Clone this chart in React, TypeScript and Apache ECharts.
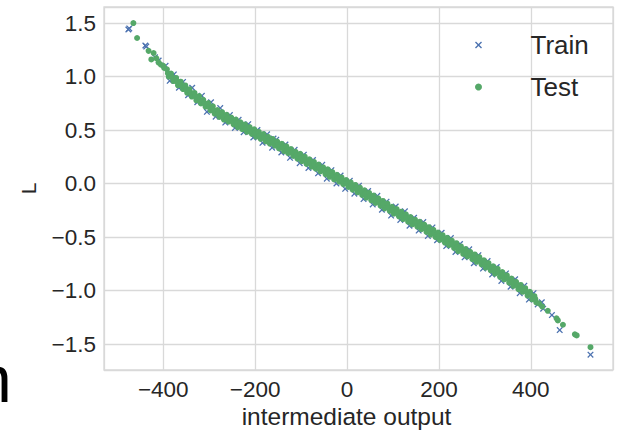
import React, { useEffect, useRef } from "react";
import * as echarts from "echarts";

const seriesNames = ["Train", "Test"];
const xAxisTitle = "intermediate output";
const yAxisTitle = "L";

const trainPoints: number[][] = [
  [-476, 1.44], [-474, 1.45], [-439, 1.29], [-437, 1.28], [-418, 1.18], [-410, 1.15],
  [-395, 1.1], [-386, 0.96], [-377, 1.02], [-366, 0.895], [-357, 0.95], [-346, 0.825],
  [-337, 0.895], [-326, 0.76], [-316, 0.82], [-305, 0.67], [-296, 0.76], [-286, 0.625],
  [-276, 0.705], [-265, 0.57], [-255, 0.64], [-244, 0.52], [-236, 0.595], [-225, 0.48],
  [-215, 0.555], [-204, 0.43], [-195, 0.5], [-184, 0.38], [-174, 0.46], [-163, 0.335],
  [-160, 0.42], [-154, 0.41], [-143, 0.29], [-134, 0.365], [-124, 0.24], [-114, 0.315],
  [-103, 0.19], [-94, 0.27], [-84, 0.145], [-74, 0.22], [-63, 0.095], [-54, 0.175],
  [-44, 0.045], [-34, 0.125], [-23, 0.0], [-14, 0.075], [-4, -0.05], [6, 0.025],
  [16, -0.095], [26, -0.02], [36, -0.145], [46, -0.07], [56, -0.195], [66, -0.115],
  [76, -0.245], [86, -0.17], [96, -0.3], [106, -0.215], [116, -0.34], [126, -0.26],
  [136, -0.395], [146, -0.32], [156, -0.44], [166, -0.36], [176, -0.49], [186, -0.41],
  [196, -0.53], [206, -0.46], [216, -0.585], [226, -0.51], [236, -0.64], [246, -0.565],
  [256, -0.69], [266, -0.615], [276, -0.745], [286, -0.67], [296, -0.795], [306, -0.725],
  [316, -0.85], [326, -0.78], [336, -0.91], [346, -0.84], [356, -0.965], [366, -0.895],
  [376, -1.025], [386, -0.955], [396, -1.085], [406, -1.025], [415, -1.13], [424, -1.11],
  [427, -1.17], [446, -1.23], [463, -1.37], [530, -1.6],
];

const testPoints: number[][] = [
  [-465, 1.5], [-457, 1.36], [-432, 1.24], [-421, 1.22], [-426, 1.16], [-415, 1.17],
  [-410, 1.13], [-405, 1.11], [-400, 1.1], [-398, 1.08],
  [-392, 1.067], [-388, 0.998], [-390, 1.03], [-383, 1.027], [-378, 0.958], [-380, 0.99],
  [-372, 0.987], [-368, 0.918], [-370, 0.952], [-362, 0.952], [-357, 0.883], [-360, 0.915],
  [-352, 0.917], [-348, 0.848], [-350, 0.88], [-343, 0.882], [-338, 0.813], [-340, 0.847],
  [-332, 0.847], [-328, 0.778], [-330, 0.813], [-322, 0.817], [-318, 0.748], [-320, 0.78],
  [-313, 0.782], [-308, 0.718], [-310, 0.748], [-302, 0.752], [-297, 0.683], [-300, 0.715],
  [-292, 0.722], [-288, 0.653], [-290, 0.683], [-282, 0.687], [-278, 0.623], [-280, 0.653],
  [-272, 0.667], [-268, 0.598], [-270, 0.63], [-262, 0.642], [-258, 0.578], [-260, 0.607],
  [-252, 0.617], [-247, 0.553], [-250, 0.583], [-242, 0.597], [-238, 0.528], [-240, 0.56],
  [-232, 0.572], [-228, 0.508], [-230, 0.538], [-222, 0.552], [-218, 0.483], [-220, 0.515],
  [-212, 0.527], [-207, 0.463], [-210, 0.493], [-202, 0.507], [-198, 0.438], [-200, 0.47],
  [-192, 0.482], [-188, 0.418], [-190, 0.448], [-182, 0.462], [-177, 0.393], [-180, 0.426],
  [-172, 0.437], [-168, 0.373], [-170, 0.404], [-162, 0.417], [-157, 0.353], [-160, 0.382],
  [-152, 0.392], [-148, 0.328], [-150, 0.36], [-142, 0.372], [-137, 0.303], [-140, 0.336],
  [-132, 0.347], [-128, 0.283], [-130, 0.312], [-122, 0.322], [-117, 0.258], [-120, 0.288],
  [-112, 0.297], [-108, 0.233], [-110, 0.264], [-102, 0.277], [-98, 0.208], [-100, 0.24],
  [-92, 0.252], [-88, 0.183], [-90, 0.216], [-82, 0.227], [-77, 0.158], [-80, 0.192],
  [-72, 0.202], [-68, 0.138], [-70, 0.168], [-62, 0.177], [-58, 0.113], [-60, 0.144],
  [-52, 0.152], [-47, 0.088], [-50, 0.12], [-42, 0.132], [-38, 0.063], [-40, 0.096],
  [-32, 0.107], [-28, 0.038], [-30, 0.072], [-22, 0.082], [-17, 0.018], [-20, 0.048],
  [-12, 0.057], [-8, -0.007], [-10, 0.024], [-2, 0.032], [3, -0.032], [0, 0.0],
  [8, 0.012], [12, -0.057], [10, -0.024], [18, -0.013], [23, -0.082], [20, -0.048],
  [28, -0.038], [33, -0.107], [30, -0.072], [38, -0.063], [42, -0.132], [40, -0.096],
  [48, -0.088], [53, -0.157], [50, -0.12], [58, -0.113], [62, -0.182], [60, -0.146],
  [68, -0.138], [73, -0.207], [70, -0.172], [78, -0.163], [82, -0.232], [80, -0.198],
  [88, -0.188], [93, -0.257], [90, -0.224], [98, -0.218], [102, -0.282], [100, -0.25],
  [108, -0.238], [113, -0.307], [110, -0.274], [118, -0.263], [122, -0.332], [120, -0.298],
  [128, -0.288], [133, -0.357], [130, -0.322], [138, -0.313], [142, -0.382], [140, -0.346],
  [148, -0.338], [153, -0.402], [150, -0.37], [158, -0.358], [162, -0.427], [160, -0.394],
  [168, -0.383], [173, -0.452], [170, -0.418], [178, -0.408], [182, -0.477], [180, -0.442],
  [188, -0.433], [193, -0.502], [190, -0.466], [198, -0.458], [202, -0.527], [200, -0.49],
  [208, -0.483], [213, -0.552], [210, -0.516], [218, -0.508], [222, -0.577], [220, -0.542],
  [228, -0.533], [233, -0.602], [230, -0.568], [238, -0.558], [242, -0.632], [240, -0.594],
  [248, -0.588], [253, -0.657], [250, -0.62], [258, -0.613], [262, -0.682], [260, -0.646],
  [268, -0.638], [273, -0.707], [270, -0.672], [278, -0.663], [282, -0.732], [280, -0.698],
  [288, -0.688], [293, -0.757], [290, -0.724], [298, -0.718], [302, -0.787], [300, -0.75],
  [308, -0.743], [313, -0.812], [310, -0.778], [318, -0.773], [322, -0.842], [320, -0.806],
  [328, -0.798], [333, -0.872], [330, -0.834], [338, -0.828], [342, -0.897], [340, -0.862],
  [348, -0.858], [353, -0.927], [350, -0.89], [358, -0.888], [362, -0.957], [360, -0.92],
  [368, -0.918], [373, -0.987], [370, -0.95], [378, -0.948], [382, -1.012], [380, -0.98],
  [388, -0.978], [393, -1.047], [390, -1.01], [398, -1.013], [403, -1.082], [400, -1.04],
  [408, -1.053], [412, -1.112], [410, -1.08],
  [418, -1.12], [425, -1.15], [437, -1.19], [456, -1.26], [459, -1.28], [470, -1.32],
  [496, -1.41], [500, -1.42], [530, -1.53],
];

const X_ICON =
  "path://M0,1.4L1.4,0L5,3.6L8.6,0L10,1.4L6.4,5L10,8.6L8.6,10L5,6.4L1.4,10L0,8.6L3.6,5Z";
const FONT = "'Liberation Sans', Arial, sans-serif";
const TEXT = "#262626";
const GRID = "#d9d9d9";

const minus = (s: string) => s.replace("-", "\u2212");

export default function App() {
  const ref = useRef<HTMLDivElement>(null);
  useEffect(() => {
    if (!ref.current) return;
    const chart = echarts.init(ref.current, null, { renderer: "svg" });
    chart.setOption({
      animation: false,
      backgroundColor: "#ffffff",
      grid: {
        left: 104, right: 6, top: 7, bottom: 60,
        outerBoundsMode: "none", containLabel: false,
        show: true, borderColor: GRID, borderWidth: 1.3, backgroundColor: "transparent",
      },
      legend: {
        orient: "vertical",
        left: 475,
        top: 32,
        padding: 0,
        itemWidth: 94,
        itemHeight: 7,
        itemGap: 16,
        textStyle: { fontSize: 26, color: TEXT, fontFamily: FONT },
        data: [
          { name: seriesNames[0], icon: X_ICON },
          { name: seriesNames[1], icon: "circle" },
        ],
      },
      xAxis: {
        type: "value",
        min: -529,
        max: 579,
        splitNumber: 5,
        axisLine: { show: false },
        axisTick: { show: false },
        splitLine: { show: true, lineStyle: { color: GRID, width: 1.3 } },
        axisLabel: {
          fontSize: 22.5, color: TEXT, fontFamily: FONT, margin: 8,
          showMinLabel: false, showMaxLabel: false,
          formatter: (v: number) => minus(String(Math.round(v))),
        },
        name: xAxisTitle,
        nameLocation: "middle",
        nameGap: 34,
        nameMoveOverlap: false,
        nameTextStyle: { fontSize: 24.5, lineHeight: 24, color: TEXT, fontFamily: FONT, padding: [0, 24, 0, 0] },
      },
      yAxis: {
        type: "value",
        min: -1.743,
        max: 1.65,
        splitNumber: 7,
        axisLine: { show: false },
        axisTick: { show: false },
        splitLine: { show: true, lineStyle: { color: GRID, width: 1.3 } },
        axisLabel: {
          fontSize: 22.5, color: TEXT, fontFamily: FONT, margin: 8,
          showMinLabel: false, showMaxLabel: false,
          formatter: (v: number) => minus(v.toFixed(1)),
        },
        name: yAxisTitle,
        nameLocation: "middle",
        nameGap: 65,
        nameMoveOverlap: false,
        nameTextStyle: { fontSize: 21, color: TEXT, fontFamily: FONT },
      },
      graphic: [
        {
          type: "text",
          x: -25,
          y: 379,
          silent: true,
          style: { text: "n", font: `66px ${FONT}`, fill: "#000000", verticalAlign: "middle" },
        },
      ],
      series: [
        {
          name: seriesNames[0],
          type: "scatter",
          symbol: X_ICON,
          symbolSize: 6.5,
          itemStyle: { color: "#4C72B0", opacity: 1 },
          data: trainPoints,
          z: 2,
        },
        {
          name: seriesNames[1],
          type: "scatter",
          symbol: "circle",
          symbolSize: 6,
          itemStyle: { color: "#55A868", opacity: 1 },
          data: testPoints,
          z: 3,
        },
      ],
    });
    return () => chart.dispose();
  }, []);
  return <div ref={ref} style={{ width: 619, height: 430, position: "absolute", left: 0, top: 0 }} />;
}
